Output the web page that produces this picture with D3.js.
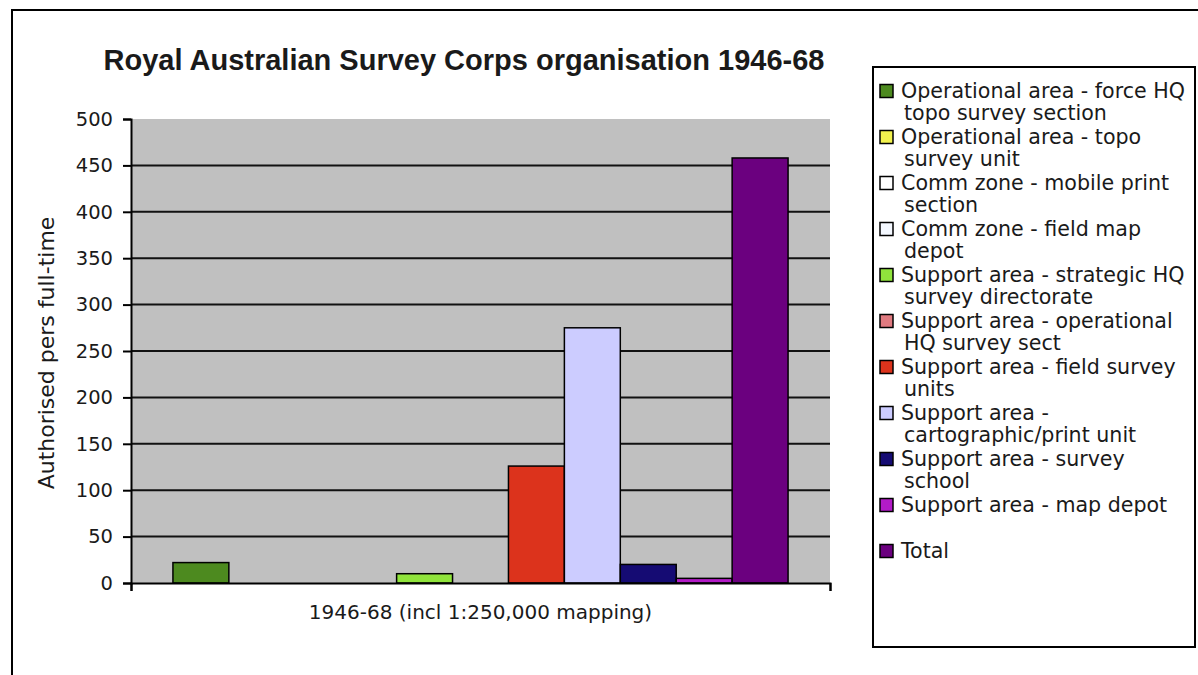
<!DOCTYPE html>
<html>
<head>
<meta charset="utf-8">
<script src="https://cdn.jsdelivr.net/npm/d3@7"></script>
<style>
  body { margin: 0; background: #fff; }
  text { font-family: "DejaVu Sans", Verdana, sans-serif; fill: #1a1a1a; }
</style>
</head>
<body>
<script>
const width = 1198, height = 675;
const plot = {left: 131, right: 830, top: 119, bottom: 583};

// data
const category = "1946-68 (incl 1:250,000 mapping)";
const seriesNames = [
  "Operational area - force HQ\ntopo survey section",
  "Operational area - topo\nsurvey unit",
  "Comm zone - mobile print\nsection",
  "Comm zone - field map\ndepot",
  "Support area - strategic HQ\nsurvey directorate",
  "Support area - operational\nHQ survey sect",
  "Support area - field survey\nunits",
  "Support area -\ncartographic/print unit",
  "Support area - survey\nschool",
  "Support area - map depot",
  "Total"
];
const seriesValues = [22, 0, 0, 0, 10, 0, 126, 275, 20, 5, 458];
const seriesColors = ["#4d8a1f", "#f2f24e", "#ffffff", "#f4f8ff", "#90e43c", "#e07a80",
                      "#dc331c", "#ccccff", "#150b73", "#b31bc7", "#6b007f"];
const yTicks = [0, 50, 100, 150, 200, 250, 300, 350, 400, 450, 500];

let svg = d3.select("body")
            .append("svg")
            .attr("width", width)
            .attr("height", height);

// outer frame (runs off the right and bottom edges)
svg.append("rect")
   .attr("x", 12).attr("y", 10)
   .attr("width", 1300).attr("height", 800)
   .attr("fill", "#fff")
   .attr("stroke", "#000")
   .attr("stroke-width", 2);

// scales
let xScale = d3.scaleBand()
    .domain([category])
    .range([plot.left, plot.right])
    .paddingInner(0)
    .paddingOuter(0.75 / 11);   // gap width 150%
let xSeries = d3.scaleBand()
    .domain(d3.range(seriesNames.length))
    .range([0, xScale.bandwidth()]);
let yScale = d3.scaleLinear()
    .domain([0, 500])
    .range([plot.bottom, plot.top]);

// plot background
svg.append("rect")
   .attr("x", plot.left).attr("y", plot.top)
   .attr("width", plot.right - plot.left)
   .attr("height", plot.bottom - plot.top)
   .attr("fill", "#c0c0c0");

// gridlines
svg.append("g")
   .selectAll("line")
   .data(yTicks.filter(d => d > 0 && d < 500))
   .enter()
   .append("line")
   .attr("x1", plot.left).attr("x2", plot.right)
   .attr("y1", d => yScale(d)).attr("y2", d => yScale(d))
   .attr("stroke", "#111")
   .attr("stroke-width", 2);

// bars
svg.append("g")
   .selectAll("rect")
   .data(seriesValues)
   .enter()
   .append("rect")
   .attr("x", (d, i) => xScale(category) + xSeries(i))
   .attr("y", d => yScale(d))
   .attr("width", xSeries.bandwidth())
   .attr("height", d => plot.bottom - yScale(d))
   .attr("fill", (d, i) => seriesColors[i])
   .attr("stroke", "#000")
   .attr("stroke-width", d => d > 0 ? 1.5 : 0);

// y axis
let yAxis = svg.append("g")
   .attr("transform", "translate(" + plot.left + ",0)")
   .call(d3.axisLeft(yScale).tickValues(yTicks).tickSize(8).tickPadding(10));
yAxis.select(".domain").attr("stroke", "#000").attr("stroke-width", 2);
yAxis.selectAll(".tick line").attr("stroke", "#000").attr("stroke-width", 2);
yAxis.selectAll(".tick text")
     .style("font-family", "DejaVu Sans, sans-serif")
     .style("font-size", "19.5px")
     .attr("fill", "#2a2a2a");

// x axis: baseline with end ticks
let xAxis = svg.append("g")
   .attr("transform", "translate(0," + plot.bottom + ")")
   .call(d3.axisBottom(d3.scaleLinear().domain([0, 1]).range([plot.left, plot.right]))
           .tickValues([0, 1]).tickSize(8).tickFormat(""));
xAxis.select(".domain").attr("stroke", "#000").attr("stroke-width", 2);
xAxis.selectAll(".tick line").attr("stroke", "#000").attr("stroke-width", 2);

// category label
svg.append("text")
   .attr("x", xScale(category) + xScale.bandwidth() / 2)
   .attr("y", 619)
   .attr("text-anchor", "middle")
   .style("font-size", "20px")
   .text(category);

// y axis label
svg.append("text")
   .attr("transform", "rotate(-90)")
   .attr("x", -(plot.top + plot.bottom) / 2 - 2)
   .attr("y", 54)
   .attr("text-anchor", "middle")
   .style("font-size", "22px")
   .text("Authorised  pers full-time");

// title
svg.append("text")
   .attr("x", 464)
   .attr("y", 70)
   .attr("text-anchor", "middle")
   .style("font-family", "Liberation Sans, Arial, sans-serif")
   .style("font-weight", "bold")
   .style("font-size", "29px")
   .text("Royal Australian Survey Corps organisation 1946-68");

// legend
svg.append("rect")
   .attr("x", 873).attr("y", 67)
   .attr("width", 322).attr("height", 580)
   .attr("fill", "#fff")
   .attr("stroke", "#000")
   .attr("stroke-width", 2);

let legend = svg.append("g")
   .selectAll("g")
   .data(seriesNames)
   .enter()
   .append("g")
   .attr("transform", (d, i) => "translate(880," + (91 + 46 * i) + ")");

legend.append("rect")
   .attr("x", 0).attr("y", -6.5)
   .attr("width", 13).attr("height", 13)
   .attr("fill", (d, i) => seriesColors[i])
   .attr("stroke", "#000")
   .attr("stroke-width", 1.5);

legend.append("text")
   .attr("x", 21)
   .attr("y", 7)
   .style("font-size", "20.6px")
   .selectAll("tspan")
   .data(d => d.split("\n"))
   .enter()
   .append("tspan")
   .attr("x", (d, i) => i === 0 ? 21 : 24)
   .attr("dy", (d, i) => i === 0 ? 0 : 22)
   .text(d => d);
</script>
</body>
</html>
